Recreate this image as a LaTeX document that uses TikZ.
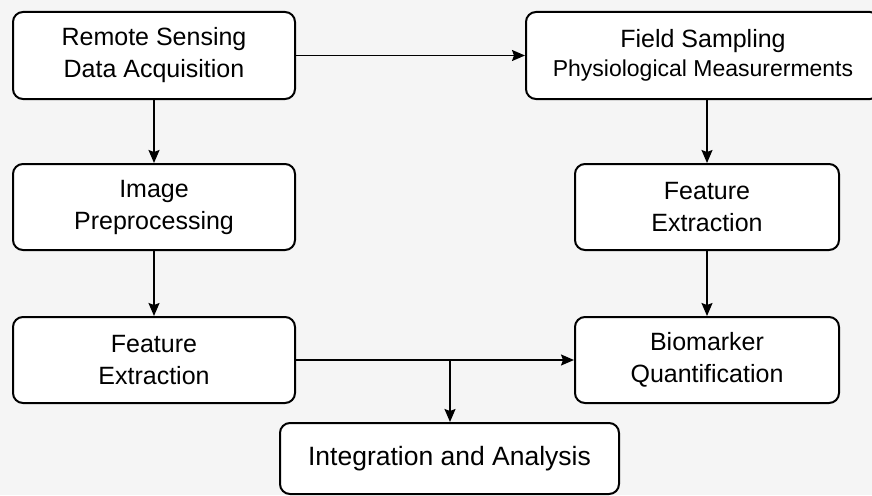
\documentclass[tikz,border=0pt]{standalone}
\usepackage{fontspec}
\setmainfont{Liberation Sans}
\usetikzlibrary{arrows.meta}
\definecolor{bgc}{HTML}{F5F5F5}
\begin{document}
\begin{tikzpicture}[x=1pt,y=-1pt,
  box/.style={draw=black, line width=2pt, fill=white, rounded corners=10pt,
    inner sep=0pt, align=center, font=\fontsize{25}{32}\selectfont},
  arr/.style={line width=1.6pt, -{Stealth[length=13pt,width=11pt,inset=2pt]}},
  ln/.style={line width=1.6pt}]
\fill[bgc] (0,0) rectangle (872,495);
\useasboundingbox (0,0) rectangle (872,495);
\begin{scope}
\clip (0,0) rectangle (872,495);
\node[box, minimum width=282pt, minimum height=87pt] (rs) at (154,55.5) {Remote Sensing\\Data Acquisition};
\node[box, minimum width=354pt, minimum height=87pt] (fs) at (703,55.5) {Field Sampling\\[-3pt]{\fontsize{23}{28}\selectfont Physiological Measurerments}};
\node[box, minimum width=282pt, minimum height=86pt] (ip) at (154,207) {Image\\Preprocessing};
\node[box, minimum width=264pt, minimum height=86pt] (fer) at (707,207) {Feature\\Extraction};
\node[box, minimum width=282pt, minimum height=86pt] (fel) at (154,360) {Feature\\Extraction};
\node[box, minimum width=264pt, minimum height=86pt] (bq) at (707,360) {Biomarker\\Quantification};
\node[box, minimum width=339pt, minimum height=71pt, font=\fontsize{26.5}{32}\selectfont] (ia) at (449.5,458.5) {Integration and Analysis};
\end{scope}
\draw[arr] (rs.east) -- (fs.west |- rs.east);
\draw[arr] (rs.south) -- (ip.north);
\draw[arr] (fs.south -| fer.north) -- (fer.north);
\draw[arr] (ip.south) -- (fel.north);
\draw[arr] (fer.south) -- (bq.north);
\draw[arr] (fel.east) -- (bq.west);
\coordinate (br) at (450,360);
\draw[arr] (br) -- (br |- ia.north);
\end{tikzpicture}
\end{document}
